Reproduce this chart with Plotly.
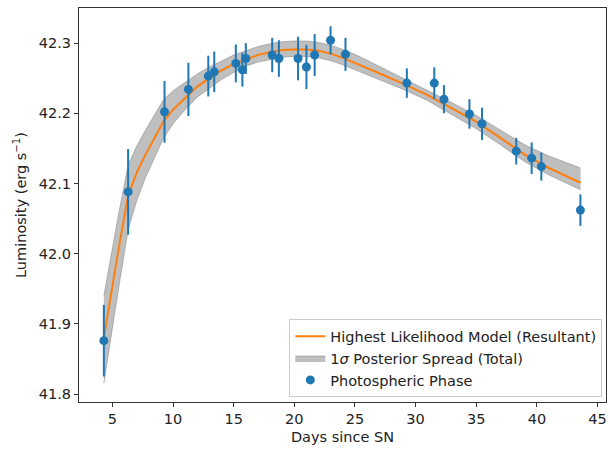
import plotly.graph_objects as go

# Observed photospheric-phase data
obs_days = [4.30, 6.30, 9.30, 11.27, 12.91, 13.40, 15.18, 15.72, 16.00, 18.18, 18.73,
            20.31, 21.00, 21.68, 22.99, 24.22, 29.28, 31.54, 32.34, 34.44, 35.48,
            38.30, 39.57, 40.37, 43.59]
obs_lum = [41.876, 42.088, 42.202, 42.234, 42.253, 42.259, 42.271, 42.262, 42.278,
           42.283, 42.278, 42.278, 42.266, 42.283, 42.304, 42.284, 42.243, 42.243,
           42.220, 42.199, 42.185, 42.146, 42.136, 42.124, 42.062]
obs_err = [0.051, 0.061, 0.044, 0.038, 0.029, 0.029, 0.027, 0.024, 0.022, 0.0245, 0.026,
           0.031, 0.0315, 0.030, 0.020, 0.0235, 0.021, 0.0225, 0.020, 0.021, 0.023,
           0.019, 0.0225, 0.020, 0.0225]

# Highest likelihood model and 1-sigma posterior spread
model_days = [4.3, 5.0, 5.5, 6.3, 7.0, 7.7, 8.5, 9.2, 10.0, 11.0, 12.0, 13.0, 14.0,
              15.0, 16.0, 17.0, 18.0, 19.0, 20.0, 21.0, 22.0, 23.0, 24.0, 25.0, 27.0,
              29.0, 31.0, 33.0, 35.0, 37.0, 39.0, 41.0, 43.6]
model_lum = [41.880, 41.955, 42.005, 42.083, 42.115, 42.140, 42.165, 42.188, 42.205,
             42.222, 42.238, 42.250, 42.261, 42.270, 42.277, 42.283, 42.287, 42.290,
             42.291, 42.291, 42.289, 42.285, 42.279, 42.272, 42.257, 42.242, 42.226,
             42.207, 42.188, 42.165, 42.141, 42.122, 42.101]
band_upper = [41.940, 42.010, 42.055, 42.126, 42.153, 42.175, 42.198, 42.219, 42.232,
              42.244, 42.256, 42.266, 42.275, 42.283, 42.289, 42.295, 42.299, 42.302,
              42.303, 42.303, 42.301, 42.297, 42.291, 42.284, 42.267, 42.250, 42.233,
              42.215, 42.197, 42.176, 42.155, 42.139, 42.122]
band_lower = [41.815, 41.895, 41.949, 42.034, 42.075, 42.107, 42.138, 42.164, 42.185,
              42.205, 42.223, 42.236, 42.248, 42.258, 42.267, 42.273, 42.277, 42.280,
              42.281, 42.281, 42.279, 42.275, 42.269, 42.262, 42.248, 42.234, 42.218,
              42.198, 42.178, 42.155, 42.131, 42.112, 42.091]

x_ticks = [5, 10, 15, 20, 25, 30, 35, 40, 45]
y_ticks = [41.8, 41.9, 42.0, 42.1, 42.2, 42.3]

FONT = "DejaVu Sans"
FS = 14.5
fig = go.Figure()

fig.add_trace(go.Scatter(x=model_days, y=band_lower, mode="lines",
                         line=dict(color="rgba(128,128,128,0.5)", width=1),
                         showlegend=False, hoverinfo="skip"))
fig.add_trace(go.Scatter(x=model_days, y=band_upper, mode="lines", fill="tonexty",
                         fillcolor="rgba(128,128,128,0.5)",
                         line=dict(color="rgba(128,128,128,0.5)", width=1),
                         name="1<i>σ</i> Posterior Spread (Total)", legendrank=2))
fig.add_trace(go.Scatter(x=model_days, y=model_lum, mode="lines",
                         line=dict(color="#ff7f0e", width=2),
                         name="Highest Likelihood Model (Resultant)", legendrank=1))
fig.add_trace(go.Scatter(x=obs_days, y=obs_lum, mode="markers",
                         marker=dict(color="#1f77b4", size=9),
                         error_y=dict(type="data", array=obs_err, color="#1f77b4",
                                      thickness=2, width=0),
                         name="Photospheric Phase", legendrank=3))

axis_common = dict(showline=True, linecolor="#333", linewidth=1, mirror=True,
                   ticks="outside", ticklen=4, tickcolor="#333", showgrid=False,
                   zeroline=False, tickfont=dict(family=FONT, size=FS, color="#222"))

fig.update_layout(
    width=610, height=450,
    margin=dict(l=79, r=4, t=8, b=48),
    plot_bgcolor="white", paper_bgcolor="white",
    font=dict(family=FONT, size=FS, color="#222"),
    xaxis=dict(range=[2.25, 45.7], tickvals=x_ticks,
               title=dict(text="Days since SN", standoff=5,
                          font=dict(family=FONT, size=FS)), **axis_common),
    yaxis=dict(range=[41.7886, 42.350], tickvals=y_ticks, tickformat=".1f",
               title=dict(text="Luminosity (erg s<sup>−1</sup>)", standoff=8,
                          font=dict(family=FONT, size=FS)), **axis_common),
    legend=dict(x=0.993, y=0.012, xanchor="right", yanchor="bottom",
                traceorder="normal",
                bgcolor="rgba(255,255,255,0.8)", bordercolor="#ccc", borderwidth=1,
                font=dict(family=FONT, size=FS)),
    showlegend=True,
)

fig.write_html("out.html")
